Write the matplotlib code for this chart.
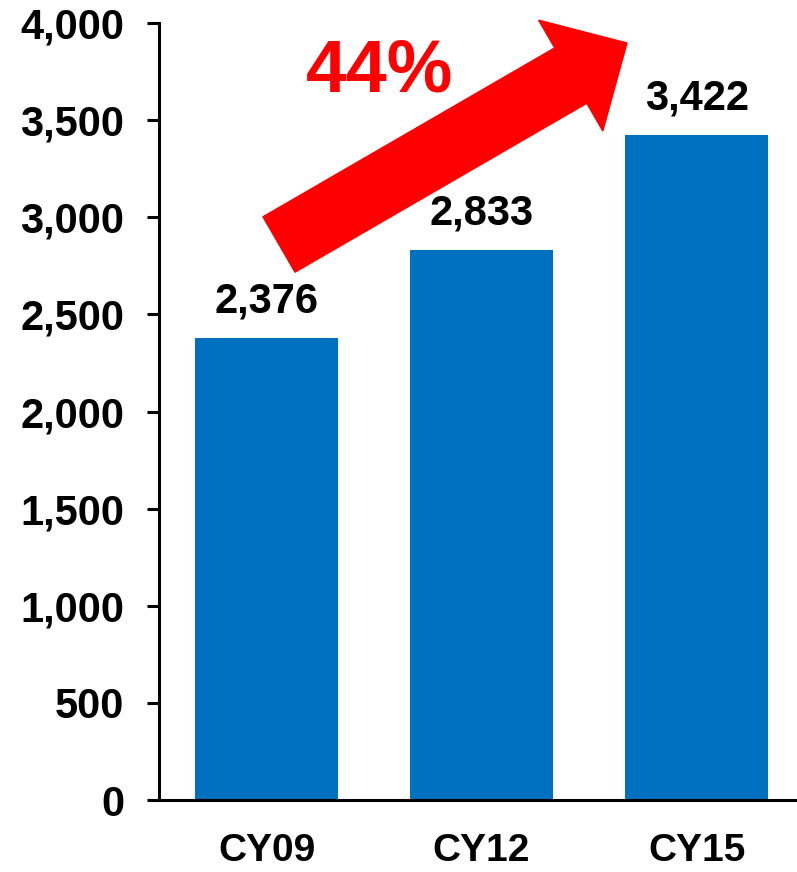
import numpy as np
import matplotlib.pyplot as plt
from matplotlib.patches import FancyArrow
from matplotlib.transforms import IdentityTransform
from matplotlib.ticker import FuncFormatter

categories = ["CY09", "CY12", "CY15"]
values = [2376, 2833, 3422]
growth_label = "44%"

plt.rcParams["font.family"] = ["Liberation Sans", "DejaVu Sans"]
plt.rcParams["font.weight"] = "bold"

fig = plt.figure(figsize=(7.97, 8.72), dpi=100)
ax = fig.add_axes([159/797, 72/872, 1 - 159/797, (800 - 23)/872])

x = np.arange(len(categories))
ax.bar(x, values, width=0.665, color="#0070C0")

for xi, v in zip(x, values):
    ax.annotate(f"{v:,}", (xi, v), xytext=(0, 12), textcoords="offset points",
                ha="center", va="bottom", fontsize=30, fontweight="bold")

ax.set_xlim(-0.5, 2.467)
ax.set_ylim(0, 4000)
ax.set_yticks(np.arange(0, 4001, 500))
ax.yaxis.set_major_formatter(FuncFormatter(lambda v, p: f"{int(v):,}"))
ax.set_xticks(x)
ax.set_xticklabels(categories)

ax.tick_params(axis="y", length=9, width=2.2, pad=16, labelsize=30)
ax.tick_params(axis="x", length=0, pad=24, labelsize=28)
for lab in ax.get_xticklabels() + ax.get_yticklabels():
    lab.set_fontweight("bold")

ax.spines["top"].set_visible(False)
ax.spines["right"].set_visible(False)
ax.spines["left"].set_linewidth(2.2)
ax.spines["bottom"].set_linewidth(2.2)

# growth arrow, drawn in pixel space so it keeps its shape
arrow = FancyArrow(279, 872 - 244.5, 348, 201.5, width=64, head_width=128,
                   head_length=65, length_includes_head=True,
                   color="#FF0000", transform=IdentityTransform(), clip_on=False)
fig.patches.append(arrow)

fig.text(380/797, 1 - 72/872, growth_label, color="#FF0000", fontsize=53,
         fontweight="bold", ha="center", va="center")

fig.savefig("out.png", dpi=100)
